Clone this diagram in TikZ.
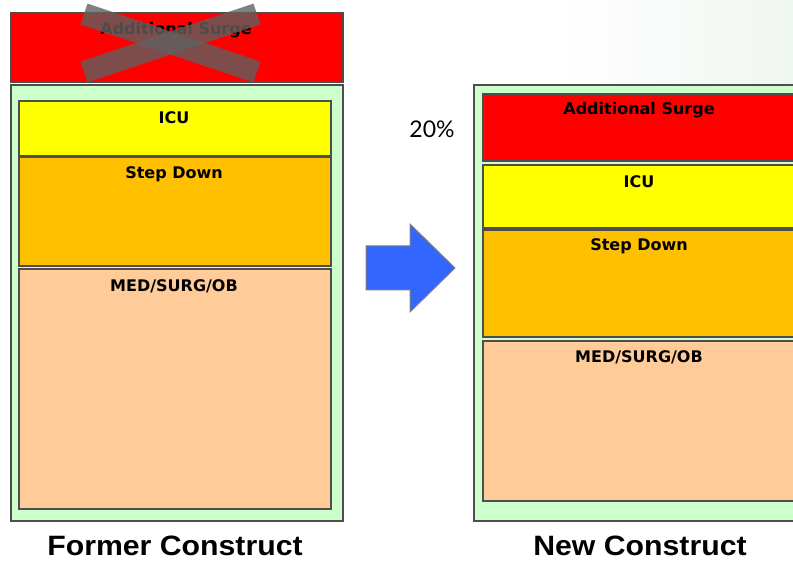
\documentclass[tikz,border=0pt]{standalone}
\usepackage{fontspec}
\usepackage{graphicx}
\newfontfamily\boxfont{DejaVu Sans}
\newfontfamily\titlefont{Liberation Sans}
\newfontfamily\pctfont{Lato}
\definecolor{bordergray}{HTML}{4D4D4D}
\definecolor{crossgray}{HTML}{606060}
\definecolor{surgered}{HTML}{FF0000}
\definecolor{icuyellow}{HTML}{FFFF00}
\definecolor{steporange}{HTML}{FFC000}
\definecolor{medpeach}{HTML}{FFCC99}
\definecolor{framegreen}{HTML}{CCFFCC}
\definecolor{arrowblue}{HTML}{3366FF}
\definecolor{bgtint}{HTML}{F0F6F1}
\tikzset{
  blk/.style={draw=bordergray, line width=2pt},
  lbl/.style={font=\boxfont\bfseries\fontsize{16}{18}\selectfont, anchor=center, inner sep=0pt},
  ttl/.style={font=\titlefont\bfseries\fontsize{28}{32}\selectfont, anchor=base, inner sep=0pt, text depth=0pt},
  xbar/.style={fill=crossgray, fill opacity=0.8, draw=none},
}
\begin{document}
\begin{tikzpicture}[x=1pt,y=-1pt]
\useasboundingbox (0,0) rectangle (793,561);
\clip (0,0) rectangle (793,561);
% faint background tint at top right
\shade[left color=white, right color=bgtint, draw=none] (560,0) rectangle (793,84);
% ---------- former construct ----------
\node[blk, fill=surgered, minimum width=332pt, minimum height=69pt, anchor=north west, inner sep=0pt] (fsurge) at (10,12) {};
\node[lbl] (fsurgelbl) at (176,30) {Additional Surge};
\fill[xbar] (87.5,3.6) -- (260.5,61.6) -- (253.5,82.4) -- (80.5,24.4) -- cycle;
\fill[xbar] (80.5,61.6) -- (253.5,3.6) -- (260.5,24.4) -- (87.5,82.4) -- cycle;
\node[blk, fill=framegreen, minimum width=332pt, minimum height=436pt, anchor=north west, inner sep=0pt] (fframe) at (10,84) {};
\node[blk, fill=icuyellow, minimum width=312pt, minimum height=55pt, anchor=north west, inner sep=0pt] (ficu) at (18,100) {};
\node[blk, fill=steporange, minimum width=312pt, minimum height=109pt, anchor=north west, inner sep=0pt] (fstep) at (18,156) {};
\node[blk, fill=medpeach, minimum width=312pt, minimum height=240pt, anchor=north west, inner sep=0pt] (fmed) at (18,268) {};
\node[lbl] (ficulbl) at (174,118) {ICU};
\node[lbl] (fsteplbl) at (174,174) {Step Down};
\node[lbl] (fmedlbl) at (174,286) {MED/SURG/OB};
\node[ttl] (ftitle) at (175,555) {\scalebox{1.08}[1]{Former Construct}};
% ---------- arrow ----------
\draw[draw=gray, line width=1pt, fill=arrowblue] (366,246) -- (410,246) -- (410,224) -- (455,268) -- (410,312) -- (410,290) -- (366,290) -- cycle;
% ---------- new construct ----------
\node[font=\pctfont\fontsize{23}{26}\selectfont, inner sep=0pt] (pct) at (432,129) {20\%};
\node[blk, fill=framegreen, minimum width=340pt, minimum height=436pt, anchor=north west, inner sep=0pt] (nframe) at (473,84) {};
\node[blk, fill=surgered, minimum width=330pt, minimum height=67pt, anchor=north west, inner sep=0pt] (nsurge) at (482,93) {};
\node[blk, fill=icuyellow, minimum width=330pt, minimum height=63pt, anchor=north west, inner sep=0pt] (nicu) at (482,164) {};
\node[blk, fill=steporange, minimum width=330pt, minimum height=107pt, anchor=north west, inner sep=0pt] (nstep) at (482,229) {};
\node[blk, fill=medpeach, minimum width=330pt, minimum height=160pt, anchor=north west, inner sep=0pt] (nmed) at (482,340) {};
\node[lbl] (nsurgelbl) at (639,110) {Additional Surge};
\node[lbl] (niculbl) at (639,182) {ICU};
\node[lbl] (nsteplbl) at (639,246) {Step Down};
\node[lbl] (nmedlbl) at (639,357) {MED/SURG/OB};
\node[ttl] (ntitle) at (640,555) {\scalebox{1.08}[1]{New Construct}};
\end{tikzpicture}
\end{document}
